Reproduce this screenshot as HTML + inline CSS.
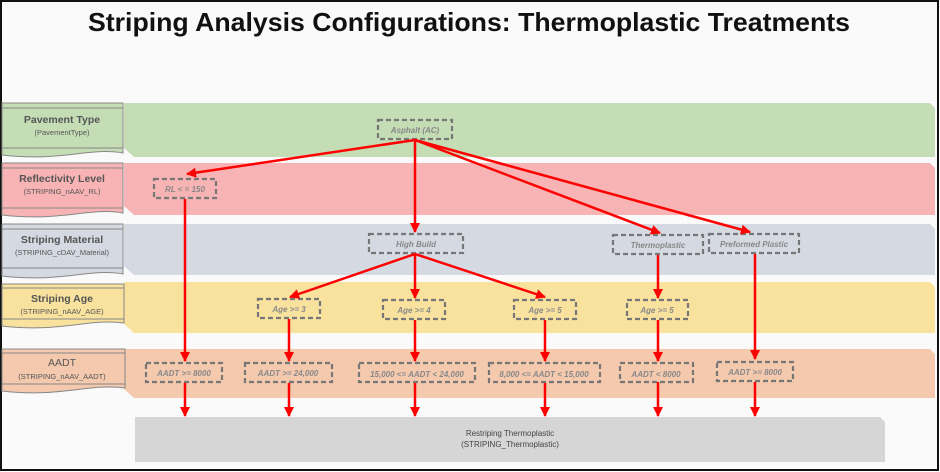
<!DOCTYPE html>
<html><head><meta charset="utf-8"><style>
html,body{margin:0;padding:0;background:#fff}
svg{display:block}
</style></head><body>
<svg width="940" height="472" viewBox="0 0 940 472" xmlns="http://www.w3.org/2000/svg" font-family="'Liberation Sans', sans-serif">
<defs>
<marker id="ah" viewBox="0 0 10 10" refX="9" refY="5" markerWidth="4" markerHeight="4" orient="auto-start-reverse" markerUnits="strokeWidth">
<path d="M0,0 L10,5 L0,10 z" fill="#f00"/></marker>
</defs>
<rect x="1" y="1" width="937" height="469" fill="#fafafa" stroke="#111" stroke-width="2"/>
<text x="469" y="31" text-anchor="middle" font-size="26" font-weight="bold" fill="#111" textLength="762" lengthAdjust="spacingAndGlyphs">Striping Analysis Configurations: Thermoplastic Treatments</text>

<!-- bands -->
<g>
<polygon points="124,103 930,103 935,108 935,157 134,157 124,148" fill="#c5ddb5"/>
<polygon points="124,163 930,163 935,168 935,215 134,215 124,206" fill="#f8b4b4"/>
<polygon points="124,224 930,224 935,229 935,275 134,275 124,266" fill="#d5d9e1"/>
<polygon points="124,282 930,282 935,287 935,333 134,333 124,324" fill="#f9e29e"/>
<polygon points="124,349 930,349 935,354 935,398 134,398 124,389" fill="#f4c9ae"/>
<polygon points="135,417 880,417 885,422 885,462 135,462" fill="#d6d6d6"/>
</g>
<text x="510" y="436" text-anchor="middle" font-size="8" fill="#444">Restriping Thermoplastic</text>
<text x="510" y="447" text-anchor="middle" font-size="8" fill="#444">(STRIPING_Thermoplastic)</text>

<!-- label boxes -->
<g stroke="#888" stroke-width="1">
<path d="M2,103 H123 V153 C90,147 60,162 2,155 Z" fill="#c5ddb5"/>
<path d="M2,163 H123 V213 C90,207 60,222 2,215 Z" fill="#f8b4b4"/>
<path d="M2,224 H123 V274 C90,268 60,283 2,276 Z" fill="#d5d9e1"/>
<path d="M2,284 H124 V323 C90,318 60,333 2,326 Z" fill="#f9e29e"/>
<path d="M2,349 H125 V388 C90,383 60,398 2,391 Z" fill="#f4c9ae"/>
<line x1="2" y1="108" x2="123" y2="108"/><line x1="2" y1="148" x2="123" y2="148"/>
<line x1="2" y1="168" x2="123" y2="168"/><line x1="2" y1="208" x2="123" y2="208"/>
<line x1="2" y1="229" x2="123" y2="229"/><line x1="2" y1="268" x2="123" y2="268"/>
<line x1="2" y1="288" x2="124" y2="288"/><line x1="2" y1="319" x2="124" y2="319"/>
<line x1="2" y1="353" x2="125" y2="353"/><line x1="2" y1="384" x2="125" y2="384"/>
</g>
<g text-anchor="middle" fill="#555">
<text x="62" y="123" font-size="10.5" font-weight="bold">Pavement Type</text>
<text x="62" y="135" font-size="7.5">(PavementType)</text>
<text x="62" y="182" font-size="10.5" font-weight="bold">Reflectivity Level</text>
<text x="62" y="194" font-size="7.5">(STRIPING_nAAV_RL)</text>
<text x="62" y="243" font-size="10.5" font-weight="bold">Striping Material</text>
<text x="62" y="255" font-size="7.5">(STRIPING_cDAV_Material)</text>
<text x="62" y="302" font-size="10.5" font-weight="bold">Striping Age</text>
<text x="62" y="314" font-size="7.5">(STRIPING_nAAV_AGE)</text>
<text x="62" y="366" font-size="10.5">AADT</text>
<text x="62" y="379" font-size="7.5">(STRIPING_nAAV_AADT)</text>
</g>

<!-- nodes -->
<g fill="none" stroke="#777" stroke-width="2.2" stroke-dasharray="5,3">
<rect x="378" y="120" width="74" height="19"/>
<rect x="154" y="179" width="62" height="19"/>
<rect x="369" y="234" width="94" height="19"/>
<rect x="613" y="235" width="90" height="19"/>
<rect x="709" y="234" width="90" height="19"/>
<rect x="258" y="299" width="62" height="19"/>
<rect x="383" y="300" width="62" height="19"/>
<rect x="514" y="300" width="62" height="19"/>
<rect x="627" y="300" width="61" height="19"/>
<rect x="146" y="363" width="76" height="19"/>
<rect x="245" y="363" width="87" height="19"/>
<rect x="359" y="363" width="116" height="19"/>
<rect x="489" y="363" width="111" height="19"/>
<rect x="620" y="363" width="73" height="19"/>
<rect x="717" y="362" width="76" height="19"/>
</g>
<g text-anchor="middle" fill="#888" font-size="8" font-style="italic" font-weight="bold">
<text x="415" y="133">Asphalt (AC)</text>
<text x="185" y="192">RL &lt; = 150</text>
<text x="416" y="247">High Build</text>
<text x="658" y="248">Thermoplastic</text>
<text x="754" y="247">Preformed Plastic</text>
<text x="289" y="312">Age &gt;= 3</text>
<text x="414" y="313">Age &gt;= 4</text>
<text x="545" y="313">Age &gt;= 5</text>
<text x="657" y="313">Age &gt;= 5</text>
<text x="184" y="376">AADT &gt;= 8000</text>
<text x="288" y="376">AADT &gt;= 24,000</text>
<text x="417" y="377">15,000 &lt;= AADT &lt; 24,000</text>
<text x="544" y="377">8,000 &lt;= AADT &lt; 15,000</text>
<text x="656" y="377">AADT &lt; 8000</text>
<text x="755" y="375">AADT &gt;= 8000</text>
</g>

<!-- arrows -->
<g stroke="#f00" stroke-width="2.5" fill="none" marker-end="url(#ah)">
<line x1="415" y1="140" x2="187" y2="174"/>
<line x1="415" y1="140" x2="415" y2="232"/>
<line x1="415" y1="140" x2="660" y2="233"/>
<line x1="415" y1="140" x2="750" y2="232"/>
<line x1="415" y1="254" x2="290" y2="297"/>
<line x1="415" y1="254" x2="415" y2="298"/>
<line x1="415" y1="254" x2="545" y2="297"/>
<line x1="185" y1="199" x2="185" y2="361"/>
<line x1="289" y1="319" x2="289" y2="361"/>
<line x1="415" y1="320" x2="415" y2="361"/>
<line x1="545" y1="320" x2="545" y2="361"/>
<line x1="658" y1="255" x2="658" y2="298"/>
<line x1="658" y1="320" x2="658" y2="361"/>
<line x1="755" y1="254" x2="755" y2="359"/>
<line x1="185" y1="383" x2="185" y2="416"/>
<line x1="289" y1="383" x2="289" y2="416"/>
<line x1="415" y1="383" x2="415" y2="416"/>
<line x1="545" y1="383" x2="545" y2="416"/>
<line x1="658" y1="382" x2="658" y2="416"/>
<line x1="755" y1="382" x2="755" y2="416"/>
</g>
</svg>
</body></html>
